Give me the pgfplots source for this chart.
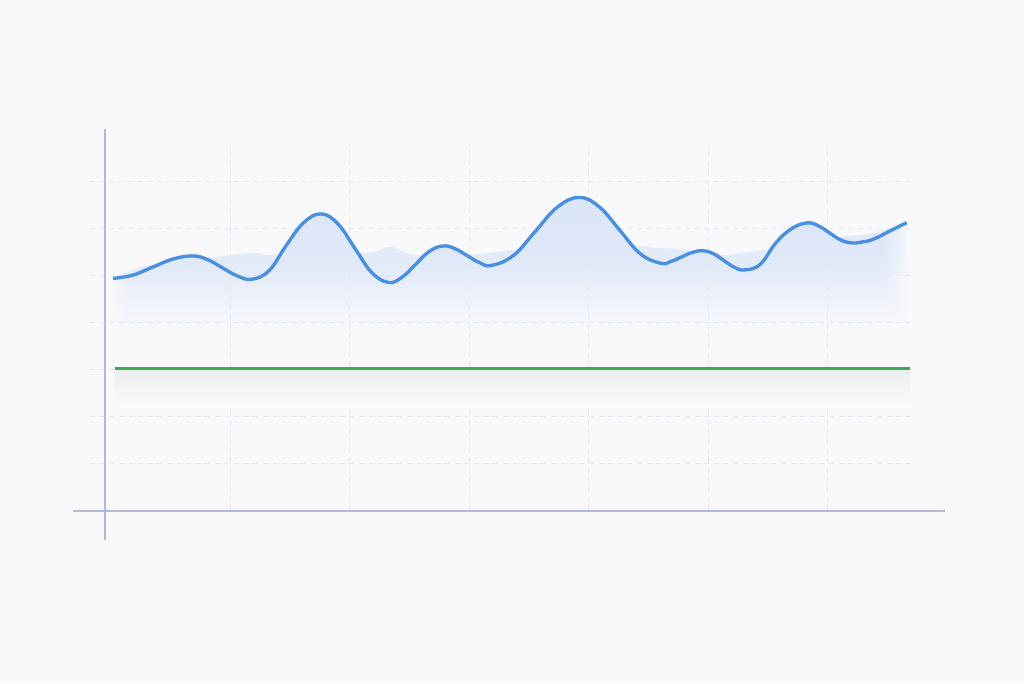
\documentclass[border=0pt]{standalone}
\usepackage{pgfplots}
\usepackage{pgfplotstable}
\pgfplotsset{compat=1.18}
\usetikzlibrary{fadings}

\definecolor{bg}{HTML}{F9F9FC}
\definecolor{axisc}{HTML}{AEBBDC}
\definecolor{gridc}{HTML}{E2E6F0}
\definecolor{lineblue}{HTML}{4A8FE0}
\definecolor{fillblue}{HTML}{DAE5F7}
\definecolor{shadowblue}{HTML}{E1E9F8}
\definecolor{linegreen}{HTML}{3DAA55}
\definecolor{greenshadow}{HTML}{EBEFEF}

\tikzfading[name=hideright, left color=transparent!100, right color=transparent!0]
\tikzfading[name=hideleft, left color=transparent!0, right color=transparent!100]

\pgfplotstableread{
x      y
0.021  4.947
0.186  5.017
0.351  5.186
0.517  5.355
0.682  5.426
0.808  5.353
0.933  5.178
1.059  5.002
1.184  4.930
1.328  5.117
1.473  5.660
1.617  6.136
1.762  6.319
1.903  6.106
2.044  5.590
2.185  5.074
2.326  4.862
2.440  4.974
2.554  5.250
2.669  5.526
2.782  5.638
2.884  5.578
2.985  5.431
3.087  5.284
3.188  5.223
3.372  5.436
3.554  5.947
3.737  6.459
3.921  6.670
4.091  6.466
4.262  5.970
4.432  5.474
4.603  5.270
4.690  5.309
4.778  5.403
4.866  5.498
4.954  5.536
5.042  5.477
5.130  5.332
5.218  5.187
5.305  5.128
5.436  5.245
5.567  5.702
5.698  6.004
5.828  6.128
5.923  6.066
6.017  5.915
6.111  5.764
6.205  5.702
6.289  5.723
6.383  5.781
6.551  5.994
6.663  6.134
}\curve

\begin{document}
\begin{tikzpicture}
\begin{axis}[
    width=15cm, height=10.005cm, scale only axis,
    xmin=-0.925, xmax=7.644,
    ymin=-3.66, ymax=10.87,
    axis lines=none,
]
% background
\fill[bg] (axis cs:-0.925,-3.66) rectangle (axis cs:7.644,10.87);

% soft band behind the curve
\addplot [draw=none, smooth, shade, top color=shadowblue, bottom color=bg,
          middle color=shadowblue!85!bg] coordinates {
(0.02,4.98) (0.33,5.23) (0.75,5.36) (1.17,5.49) (1.33,5.45) (1.75,5.55)
(2.15,5.49) (2.34,5.62) (2.53,5.45) (2.84,5.43) (3.09,5.47) (3.37,5.55)
(3.85,5.66) (4.35,5.66) (4.54,5.60) (4.77,5.57) (5.13,5.45) (5.27,5.49)
(5.46,5.55) (5.77,5.72) (6.10,5.83) (6.38,5.91) (6.66,6.13)
} -- (axis cs:6.66,3.85) -- (axis cs:0.02,3.85) -- cycle;

% area under the curve
\addplot [draw=none, smooth, tension=0.7, shade, top color=fillblue,
          bottom color=bg, middle color=fillblue!80!bg] table {\curve}
  -- (axis cs:6.663,3.85) -- (axis cs:0.021,3.85) -- cycle;

% soft ends of the area
\fill[bg, path fading=hideright] (axis cs:6.45,3.8) rectangle (axis cs:6.72,6.5);
\fill[bg, path fading=hideleft] (axis cs:0.0,3.8) rectangle (axis cs:0.15,5.4);

% grid
\pgfplotsinvokeforeach{1,...,7}{
  \draw[gridc, line width=0.4pt, dash pattern=on 2pt off 2pt]
    (axis cs:-0.17,#1) -- (axis cs:6.69,#1);
}
\pgfplotsinvokeforeach{1,...,6}{
  \draw[gridc, line width=0.4pt, dash pattern=on 2pt off 2pt]
    (axis cs:#1,0) -- (axis cs:#1,7.8);
}

% shadow under the green line
\addplot [draw=none, shade, top color=greenshadow, bottom color=bg] coordinates {
(0.04,3.03) (6.69,3.03)
} -- (axis cs:6.69,2.25) -- (axis cs:0.04,2.25) -- cycle;

% green level
\addplot [linegreen, line width=1.3pt] coordinates {(0.04,3.03) (6.69,3.03)};

% blue curve
\addplot [lineblue, line width=1.4pt, smooth, tension=0.7] table {\curve};

% axis lines
\draw[axisc, line width=0.6pt] (axis cs:-0.046,-0.62) -- (axis cs:-0.046,8.13);
\draw[axisc, line width=0.6pt] (axis cs:-0.315,0) -- (axis cs:6.983,0);
\end{axis}
\end{tikzpicture}
\end{document}
